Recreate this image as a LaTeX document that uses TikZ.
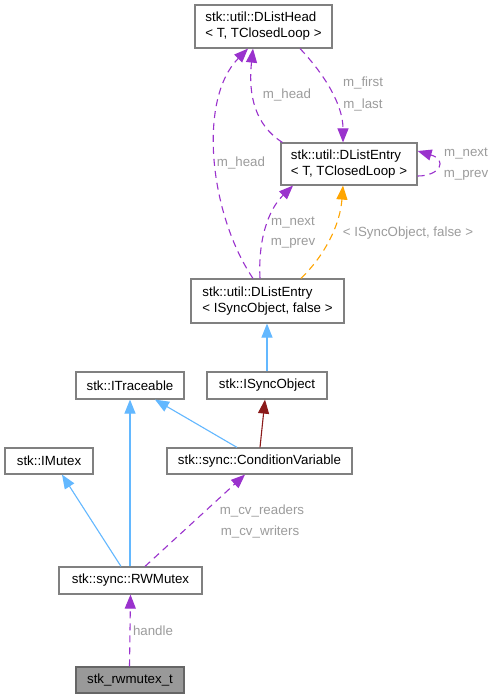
\documentclass[tikz,border=0pt]{standalone}
\usepackage{fontspec}
\setmainfont{Liberation Sans}
\usetikzlibrary{arrows.meta}
\definecolor{boxgray}{HTML}{808080}
\definecolor{lblgray}{HTML}{9C9C9C}
\definecolor{dxpurple}{HTML}{9A32CD}
\definecolor{dxblue}{HTML}{63B8FF}
\definecolor{dxorange}{HTML}{FFA500}
\definecolor{dxred}{HTML}{8B1A1A}
\definecolor{curfill}{HTML}{999999}
\definecolor{curdraw}{HTML}{666666}
\begin{document}
\begin{tikzpicture}[x=1pt,y=-1pt,
  box/.style={draw=boxgray, line width=1.2pt, fill=white, inner sep=0pt, font=\fontsize{13.3}{16}\selectfont, text=black},
  lbl/.style={text=lblgray, font=\fontsize{13.3}{16}\selectfont, inner sep=0pt},
  tip/.style={-{Triangle[length=14pt,width=11pt]}},
  usage/.style={tip, draw=dxpurple, line width=1.1pt, dash pattern=on 7pt off 5pt},
  inherit/.style={tip, draw=dxblue, line width=1.1pt},
  tmpl/.style={tip, draw=dxorange, line width=1.1pt, dash pattern=on 7pt off 5pt},
  privinh/.style={tip, draw=dxred, line width=1.1pt}
]
\fill[white] (0,0) rectangle (497,699);
\useasboundingbox (0,0) rectangle (497,699);

% nodes
\node[box, minimum width=137pt, minimum height=43pt, align=left] (head) at (263.5,26.5) {stk::util::DListHead\\< T, TClosedLoop >};
\node[box, minimum width=136pt, minimum height=42pt, align=left] (entT) at (349,164) {stk::util::DListEntry\\< T, TClosedLoop >};
\node[box, minimum width=153pt, minimum height=44pt, align=left] (entS) at (267.5,301) {stk::util::DListEntry\\< ISyncObject, false >};
\node[box, minimum width=108pt, minimum height=27pt] (trace) at (130,385.5) {stk::ITraceable};
\node[box, minimum width=120pt, minimum height=27pt] (sync) at (267,385.5) {stk::ISyncObject};
\node[box, minimum width=88pt, minimum height=26pt] (mutex) at (49,461) {stk::IMutex};
\node[box, minimum width=185pt, minimum height=26pt] (cv) at (259.5,461) {stk::sync::ConditionVariable};
\node[box, minimum width=143pt, minimum height=27pt] (rw) at (130.5,580.5) {stk::sync::RWMutex};
\node[box, draw=curdraw, fill=curfill, minimum width=108pt, minimum height=26pt] (cur) at (130,680) {stk\_rwmutex\_t};

% edges
\draw[usage] ([xshift=2pt]entT.north west) .. controls (255,125) and (248,95) .. ([xshift=-10.5pt]head.south);
\draw[usage] ([xshift=36.5pt]head.south) .. controls (325,75) and (343,105) .. ([xshift=-6pt]entT.north);
\draw[usage] ([yshift=-12pt]entT.east) .. controls (440,176) and (448,160) .. ([yshift=13pt]entT.east);
\draw[usage] ([xshift=-14.5pt]entS.north) .. controls (210,215) and (197,100) .. ([xshift=-15.5pt]head.south);
\draw[usage] ([xshift=-7.5pt]entS.north) .. controls (258,240) and (268,210) .. ([xshift=-56pt]entT.south);
\draw[tmpl] ([xshift=33.5pt]entS.north) .. controls (325,255) and (340,225) .. ([xshift=-6pt]entT.south);
\draw[inherit] (sync.north) -- ([xshift=-0.5pt]entS.south);
\draw[inherit] ([xshift=-0.5pt]rw.north) -- (trace.south);
\draw[inherit] ([xshift=-22.5pt]cv.north) -- ([xshift=25pt]trace.south);
\draw[privinh] ([xshift=0.5pt]cv.north) -- ([xshift=-2pt]sync.south);
\draw[inherit] ([xshift=-9.5pt]rw.north) -- ([xshift=13pt]mutex.south);
\draw[usage] ([xshift=14.5pt]rw.north) -- ([xshift=-14.5pt]cv.south);
\draw[usage] ([xshift=-0.5pt]cur.north) -- (rw.south);

% labels
\node[lbl] (lfirst) at (363,83) {m\_first};
\node[lbl] (llast) at (363,105) {m\_last};
\node[lbl] (lhead1) at (287,95) {m\_head};
\node[lbl] (lnext1) at (466,154) {m\_next};
\node[lbl] (lprev1) at (466,175) {m\_prev};
\node[lbl] (lhead2) at (241,163) {m\_head};
\node[lbl] (lnext2) at (293,223) {m\_next};
\node[lbl] (lprev2) at (293,243) {m\_prev};
\node[lbl] (ltmpl) at (408,233) {< ISyncObject, false >};
\node[lbl] (lcvr) at (262,511) {m\_cv\_readers};
\node[lbl] (lcvw) at (260,532) {m\_cv\_writers};
\node[lbl] (lhandle) at (153,631) {handle};
\end{tikzpicture}
\end{document}
